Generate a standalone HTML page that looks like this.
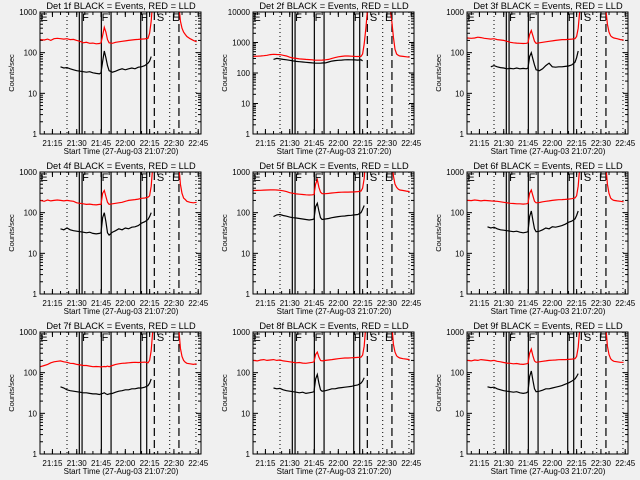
<!DOCTYPE html>
<html><head><meta charset="utf-8">
<style>
html,body{margin:0;padding:0;background:#f0f0f0;}
svg{display:block;font-family:"Liberation Sans",sans-serif;}
</style></head>
<body>
<svg id="chart" width="640" height="480" viewBox="0 0 640 480">
<rect width="640" height="480" fill="#f0f0f0"/>
</svg>
<script>
// Time samples (minutes after 21:00)
const timesMain = [7.5,10,12,14,16,18,20,22,24,26,28,30,32,34,36,38,40,42,44,45,46,47,48,49,50,52,54,56,58,60,62,64,66,68,70,72,74,75,76,77,78];
const timesTail = [92,93,94,95,96,97,98,100,102,104];
const xTickLabels = ["21:15","21:30","21:45","22:00","22:15","22:30","22:45"];
const xTickTimes = [15,30,45,60,75,90,105];
const solidLines = [31.6,33.3,45.2,51.2,69.5,73.2];
const dashedLines = [77.9,93.1];
const dottedLines = [24,87.4,103.6];
const markerLetters = ["E","F","F","F","S","E"];
const markerTimes = [7.6,33.3,45.4,69.6,79.5,88.8];
const panelDets = ["1f","2f","3f","4f","5f","6f","7f","8f","9f"];
const panelDecades = [3,4,3,3,3,3,3,3,3];
const N=null;
const red1=[210,205,215,200,220,225,220,215,220,210,212,200,190,175,180,170,172,165,168,175,260,420,320,210,175,170,180,185,190,195,200,205,210,212,215,218,225,300,600,2000,6000];
const blk1=[N,N,N,N,N,N,45,42,43,40,38,36,35,34,33,34,32,31,30,32,60,110,75,48,36,33,35,38,40,38,40,42,40,44,45,48,55,62,80,N,N];
const red2=[350,355,360,370,380,400,410,405,400,380,360,330,310,300,290,285,280,275,270,265,262,262,262,262,265,270,280,300,320,340,350,360,360,355,350,348,350,420,900,3000,12000];
const blk2=[N,N,N,N,N,N,280,300,290,280,270,260,250,240,235,230,225,220,215,212,210,210,210,210,212,215,230,245,255,260,265,270,272,270,268,265,270,250,N,N,N];
const red3=[230,225,230,240,235,225,220,215,220,210,205,200,190,180,175,172,170,168,170,175,280,350,260,190,170,175,180,185,190,195,200,205,210,210,212,215,220,250,400,1200,5000];
const blk3=[N,N,N,N,N,N,N,45,48,45,43,42,40,41,40,42,40,41,40,42,80,100,70,50,38,36,40,48,55,45,44,45,45,46,47,50,58,75,110,N,N];
const red4=[200,190,205,195,200,205,200,195,200,195,190,175,170,165,160,162,158,155,160,160,300,350,250,180,160,165,170,175,180,190,200,205,210,215,225,230,240,260,450,1500,6000];
const blk4=[N,N,N,N,N,N,40,38,42,38,36,35,34,33,32,33,31,30,31,32,75,100,60,32,28,33,36,40,38,42,40,44,45,48,55,60,68,80,100,N,N];
const red5=[350,352,355,358,360,362,365,360,355,345,330,310,300,290,285,280,275,272,275,280,500,650,420,320,295,292,298,305,310,315,318,320,320,322,325,330,340,400,700,2500,8000];
const blk5=[N,N,N,N,N,N,80,88,90,85,82,78,75,74,72,70,68,66,68,70,140,170,110,75,68,70,72,75,78,80,82,83,85,86,88,90,100,120,150,N,N];
const red6=[200,198,205,200,195,200,198,195,192,190,185,180,175,170,168,165,165,162,165,170,300,360,260,190,175,178,185,190,195,200,205,208,210,212,215,220,230,260,450,1500,6000];
const blk6=[N,N,N,N,N,N,45,42,44,40,38,37,36,35,34,35,33,32,33,34,80,110,65,40,34,35,38,42,40,45,44,46,48,52,58,62,70,85,110,N,N];
const red7=[140,150,160,175,185,190,195,185,180,170,168,160,155,150,150,145,140,142,140,138,140,142,140,145,140,150,160,165,170,172,175,178,180,178,180,182,175,200,350,1200,5000];
const blk7=[N,N,N,N,N,N,45,42,38,36,35,34,33,32,32,31,30,30,29,30,31,32,30,29,30,31,33,35,36,38,38,40,40,42,42,44,48,55,70,N,N];
const red8=[200,195,205,210,200,205,210,200,205,195,190,185,180,175,178,172,170,175,180,185,280,320,240,200,195,200,205,210,215,220,225,230,230,232,235,238,240,270,450,1500,6000];
const blk8=[N,N,N,N,N,N,42,40,41,38,36,35,34,33,32,33,31,32,33,34,70,90,55,38,35,36,38,40,40,42,43,44,45,46,48,50,55,62,75,N,N];
const red9=[200,195,205,200,210,205,200,195,200,190,185,178,172,170,165,168,162,160,165,170,300,380,260,195,180,185,190,195,200,202,205,208,210,210,212,215,220,250,420,1400,6000];
const blk9=[N,N,N,N,N,N,45,43,44,40,38,36,35,34,33,34,32,31,32,34,80,110,65,40,34,35,37,40,40,42,44,46,48,52,56,62,70,80,95,N,N];
const tailRed=[[6000,1500,600,400,320,280,250,220,200,185],[12000,5000,1500,600,420,380,360,350,340,330],[5000,1200,500,320,260,240,230,220,210,205],[6000,1500,500,300,230,210,190,180,175,180],[8000,2500,800,500,420,380,360,350,340,330],[6000,1500,500,300,230,210,200,195,190,185],[5000,1200,400,250,200,180,170,165,160,165],[6000,1500,500,320,260,240,230,220,215,210],[6000,1400,450,280,220,200,190,185,180,180]];
const redSeries=[red1,red2,red3,red4,red5,red6,red7,red8,red9];
const blackSeries=[blk1,blk2,blk3,blk4,blk5,blk6,blk7,blk8,blk9];

const NS="http://www.w3.org/2000/svg";
const svg=document.getElementById('chart');
function mk(tag,attrs,parent){const e=document.createElementNS(NS,tag);for(const k in attrs)e.setAttribute(k,attrs[k]);(parent||svg).appendChild(e);return e;}

const L=40,R=201,T=12,B=134;
for(let p=0;p<9;p++){
  const ox=[0,213,427][p%3], oy=[0,160,320][Math.floor(p/3)];
  const dec=panelDecades[p];
  const g=mk('g',{transform:`translate(${ox},${oy})`});
  
  
  const xs=t=>L+(t-7.33)*1.62;
  const ys=v=>B-Math.log10(v)*(B-T)/dec;
  const cid='clip'+p;
  const cp=mk('clipPath',{id:cid},g);mk('rect',{x:L,y:T,width:R-L,height:B-T},cp);
  const ti=mk('text',{x:121,y:9,'font-size':9.3,'text-anchor':'middle',fill:'#000'},g);
  ti.textContent='Det '+panelDets[p]+' BLACK = Events, RED = LLD';
  
  
  const yt=mk('text',{x:0,y:0,'font-size':7.5,'text-anchor':'middle',transform:'translate(14,73) rotate(-90)'},g);
  yt.textContent='Counts/sec';
  
  
  for(let d=0;d<=dec;d++){
    const y=ys(Math.pow(10,d));
    const lb=mk('text',{x:37,y:y+3,'font-size':8,'text-anchor':'end'},g);
    lb.textContent=String(Math.pow(10,d));
    
    
    mk('line',{x1:L,x2:L+5,y1:y,y2:y,stroke:'#000'},g);
    mk('line',{x1:R-5,x2:R,y1:y,y2:y,stroke:'#000'},g);
    if(d<dec)for(let m=2;m<10;m++){const yy=ys(m*Math.pow(10,d));
      mk('line',{x1:L,x2:L+3,y1:yy,y2:yy,stroke:'#000'},g);mk('line',{x1:R-3,x2:R,y1:yy,y2:yy,stroke:'#000'},g);}
  }
  xTickTimes.forEach((t,i)=>{const x=xs(t);
    mk('line',{x1:x,x2:x,y1:B,y2:B-5,stroke:'#000'},g);mk('line',{x1:x,x2:x,y1:T,y2:T+5,stroke:'#000'},g);
    const lb=mk('text',{x:x,y:146,'font-size':8,'text-anchor':'middle'},g);lb.textContent=xTickLabels[i];
    
    
  });
  for(let t=10;t<106;t+=5){const x=xs(t);mk('line',{x1:x,x2:x,y1:B,y2:B-3,stroke:'#000'},g);mk('line',{x1:x,x2:x,y1:T,y2:T+3,stroke:'#000'},g);}
  const xt=mk('text',{x:121,y:154,'font-size':8,'text-anchor':'middle'},g);
  xt.textContent='Start Time (27-Aug-03 21:07:20)';
  
  
  const pg=mk('g',{'clip-path':`url(#${cid})`},g);
  solidLines.forEach(t=>{const l=mk('line',{x1:xs(t),x2:xs(t),y1:T,y2:B,stroke:'#000','stroke-width':1.2},pg);
    });
  dashedLines.forEach(t=>{const l=mk('line',{x1:xs(t),x2:xs(t),y1:T,y2:B,stroke:'#000','stroke-width':1.2,'stroke-dasharray':'8,4'},pg);
    });
  dottedLines.forEach(t=>{const l=mk('line',{x1:xs(t),x2:xs(t),y1:T,y2:B,stroke:'#000','stroke-dasharray':'1,3'},pg);
    });
  function path(ts,vs){let d='',pen=false;ts.forEach((t,i)=>{const v=vs[i];if(v==null){pen=false;return;}
    d+=(pen?'L':'M')+xs(t).toFixed(1)+','+ys(v).toFixed(1);pen=true;});return d;}
  const rp=mk('path',{d:path(timesMain,redSeries[p])+path(timesTail,tailRed[p]),fill:'none',stroke:'#ff0000','stroke-width':1.2},pg);
  
  const bp=mk('path',{d:path(timesMain,blackSeries[p]),fill:'none',stroke:'#000','stroke-width':1.2},pg);
  
  markerLetters.forEach((c,i)=>{const lt=mk('text',{x:xs(markerTimes[i]),y:21,'font-size':11},g);lt.textContent=c;
    });
  const fr=mk('rect',{x:L,y:T,width:R-L,height:B-T,fill:'none',stroke:'#000'},g);
  
}
</script>
</body></html>
